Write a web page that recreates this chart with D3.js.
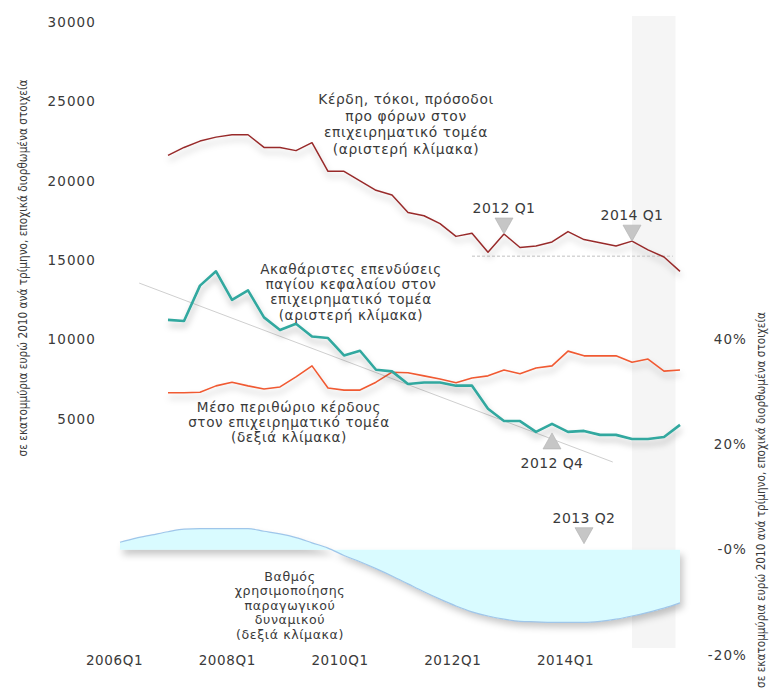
<!DOCTYPE html>
<html>
<head>
<meta charset="utf-8">
<script src="https://cdn.jsdelivr.net/npm/d3@7"></script>
<style>
  html, body { margin: 0; padding: 0; background: #fff; }
  svg { display: block; }
  text { font-family: "DejaVu Sans", sans-serif; fill: #3a3a3a; }
</style>
</head>
<body>
<svg id="chart" width="775" height="691"></svg>
<script>
// ---------------- DATA ----------------
const lineQuarters = ["2006Q4","2007Q1","2007Q2","2007Q3","2007Q4","2008Q1","2008Q2","2008Q3","2008Q4",
  "2009Q1","2009Q2","2009Q3","2009Q4","2010Q1","2010Q2","2010Q3","2010Q4","2011Q1","2011Q2","2011Q3","2011Q4",
  "2012Q1","2012Q2","2012Q3","2012Q4","2013Q1","2013Q2","2013Q3","2013Q4","2014Q1","2014Q2","2014Q3","2014Q4"];

// Profits, interest, rents before tax (left scale, million EUR)
const profits = [21600,22100,22500,22750,22900,22900,22100,22100,21900,22400,20600,20600,20000,19400,19100,18000,17800,
  17300,16500,16700,15500,16650,15800,15900,16150,16800,16300,16100,15900,16200,15650,15200,14300];

// Gross fixed capital formation (left scale, million EUR)
const investment = [11240,11170,13400,14300,12500,13100,11400,10600,11000,10200,10100,9000,9300,8100,8000,7200,7300,
  7300,7100,7100,5640,4870,4870,4190,4690,4190,4250,4000,4000,3740,3740,3870,4630];

// Average profit margin (right scale, %)
const margin = [29.8,29.8,29.9,31.1,31.8,31.1,30.5,30.9,32.8,34.9,30.7,30.3,30.3,31.8,33.7,33.6,33.0,
  32.4,31.7,32.6,33.0,34.1,33.4,34.5,34.9,37.7,36.8,36.8,36.8,35.6,36.2,33.9,34.1];

const areaQuarters = ["2006Q1","2006Q2","2006Q3"].concat(lineQuarters);
// Capacity utilisation (right scale, %)
const capacity = [1.4,2.2,2.8,3.4,3.9,4.0,4.0,4.0,4.0,3.5,3.0,2.3,1.3,0.3,-1.1,-2.3,-3.6,-5.0,-6.5,-8.0,
  -9.4,-10.7,-11.8,-12.6,-13.2,-13.6,-13.7,-13.8,-13.8,-13.8,-13.6,-13.2,-12.6,-11.9,-11.1,-10.1];

const trendLine = [{q: 2006.30, v: 13560}, {q: 2013.70, v: 2290}];
const dashedLevel = {from: 2011.5, to: 2014.64, v: 15250};
const shadedBand = {from: 2014.0, to: 2014.68};

const leftTicks = [5000, 10000, 15000, 20000, 25000, 30000];
const rightTicks = [-20, 0, 20, 40];
const rightTickLabels = ["-20%", "-0%", "20%", "40%"];
const xTickLabels = ["2006Q1", "2008Q1", "2010Q1", "2012Q1", "2014Q1"];

const axisTitle = "σε εκατομμύρια ευρώ 2010 ανά τρίμηνο, εποχικά διορθωμένα στοιχεία";

const labelProfits = ["Κέρδη, τόκοι, πρόσοδοι", "προ φόρων στον", "επιχειρηματικό τομέα", "(αριστερή κλίμακα)"];
const labelInvest = ["Ακαθάριστες επενδύσεις", "παγίου κεφαλαίου στον", "επιχειρηματικό τομέα", "(αριστερή κλίμακα)"];
const labelMargin = ["Μέσο περιθώριο κέρδους", "στον επιχειρηματικό τομέα", "(δεξιά κλίμακα)"];
const labelCapacity = ["Βαθμός", "χρησιμοποίησης", "παραγωγικού", "δυναμικού", "(δεξιά κλίμακα)"];

const markers = [
  {text: "2012 Q1", quarter: "2012Q1", series: "profits", dir: "down"},
  {text: "2014 Q1", quarter: "2014Q1", series: "profits", dir: "down"},
  {text: "2012 Q4", quarter: "2012Q4", series: "investment", dir: "up"},
  {text: "2013 Q2", quarter: "2013Q2", series: "zero", dir: "down"}
];

// ---------------- HELPERS ----------------
const qNum = s => +s.slice(0, 4) + (+s.slice(5) - 1) / 4;

const svg = d3.select("#chart");
const W = 775, H = 691;

const x = d3.scaleLinear().domain([2006, 2014.75]).range([120, 680]);
const yL = d3.scaleLinear().domain([0, 30000]).range([498.4, 22]);
const yR = d3.scaleLinear().domain([-20, 40]).range([655, 339]);
const xLab = d3.scalePoint().domain(xTickLabels).range([114, 565]);

// shadow filter
const defs = svg.append("defs");
const f = defs.append("filter").attr("id", "shadow").attr("x", "-10%").attr("y", "-20%").attr("width", "130%").attr("height", "160%");
f.append("feDropShadow").attr("dx", 1).attr("dy", 5).attr("stdDeviation", 3)
  .attr("flood-color", "#000").attr("flood-opacity", 0.28);
const f2 = defs.append("filter").attr("id", "shadowArea").attr("x", "-10%").attr("y", "-20%").attr("width", "130%").attr("height", "160%");
f2.append("feDropShadow").attr("dx", 3).attr("dy", 5).attr("stdDeviation", 3.5)
  .attr("flood-color", "#000").attr("flood-opacity", 0.22);

svg.append("rect").attr("width", W).attr("height", H).attr("fill", "#fff");

// shaded band
svg.append("rect")
  .attr("x", x(shadedBand.from)).attr("width", x(shadedBand.to) - x(shadedBand.from))
  .attr("y", 16).attr("height", 632)
  .attr("fill", "#f5f5f5");

// ---------------- AREA ----------------
const areaData = areaQuarters.map((q, i) => ({q: qNum(q), v: capacity[i]}));
svg.append("path").datum(areaData)
  .attr("d", d3.area().x(d => x(d.q)).y0(yR(0)).y1(d => yR(d.v)).curve(d3.curveMonotoneX))
  .attr("fill", "#d9fbff")
  .attr("filter", "url(#shadowArea)");
svg.append("path").datum(areaData)
  .attr("d", d3.line().x(d => x(d.q)).y(d => yR(d.v)).curve(d3.curveMonotoneX))
  .attr("fill", "none").attr("stroke", "#9fc6ea").attr("stroke-width", 1.2);

// ---------------- REFERENCE LINES ----------------
svg.append("path").datum(trendLine)
  .attr("d", d3.line().x(d => x(d.q)).y(d => yL(d.v)))
  .attr("stroke", "#cfcfcf").attr("stroke-width", 1).attr("fill", "none");

svg.append("line")
  .attr("x1", x(dashedLevel.from)).attr("x2", x(dashedLevel.to))
  .attr("y1", yL(dashedLevel.v)).attr("y2", yL(dashedLevel.v))
  .attr("stroke", "#d6d6d6").attr("stroke-width", 1.5).attr("stroke-dasharray", "3,2");

// ---------------- LINES ----------------
function drawLine(values, yScale, color, width) {
  const data = lineQuarters.map((q, i) => ({q: qNum(q), v: values[i]}));
  svg.append("path").datum(data)
    .attr("d", d3.line().x(d => x(d.q)).y(d => yScale(d.v)))
    .attr("fill", "none").attr("stroke", color).attr("stroke-width", width)
    .attr("stroke-linejoin", "round")
    .attr("filter", "url(#shadow)");
}
drawLine(margin, yR, "#f05a33", 1.6);
drawLine(investment, yL, "#31a89f", 2.6);
drawLine(profits, yL, "#982b2b", 1.5);

// ---------------- MARKERS ----------------
markers.forEach(m => {
  const i = lineQuarters.indexOf(m.quarter);
  const q = qNum(m.quarter);
  const px = x(q);
  let apexY;
  if (m.series === "profits") apexY = yL(profits[i]);
  else if (m.series === "investment") apexY = yL(investment[i]) + 9;
  else apexY = yR(0) - 6;
  const w = 9, h = 16;
  let pts, ty;
  if (m.dir === "down") {
    pts = [[px - w, apexY - h], [px + w, apexY - h], [px, apexY]];
    ty = apexY - h - 5;
  } else {
    pts = [[px - w, apexY + h], [px + w, apexY + h], [px, apexY]];
    ty = apexY + h + 19;
  }
  svg.append("path").attr("d", "M" + pts.map(p => p.join(",")).join("L") + "Z")
    .attr("fill", "#c6c6c6").attr("stroke", "#b0b0b0").attr("stroke-width", 0.6);
  svg.append("text").attr("x", px).attr("y", ty)
    .attr("text-anchor", "middle").attr("font-size", 14).attr("letter-spacing", 0.4)
    .text(m.text);
});

// ---------------- AXES ----------------
const axL = svg.append("g").attr("transform", "translate(96,0)")
  .call(d3.axisLeft(yL).tickValues(leftTicks).tickSize(0).tickPadding(0).tickFormat(d3.format("d")));
const axR = svg.append("g").attr("transform", "translate(747,0)")
  .call(d3.axisLeft(yR).tickValues(rightTicks).tickSize(0).tickPadding(0)
    .tickFormat(d => rightTickLabels[rightTicks.indexOf(d)]));
const axB = svg.append("g").attr("transform", "translate(0,655)")
  .call(d3.axisBottom(xLab).tickSize(0).tickPadding(0));
[axL, axR, axB].forEach(g => {
  g.select(".domain").remove();
  g.selectAll("text").attr("font-family", "DejaVu Sans, sans-serif").attr("font-size", 13.5)
    .attr("letter-spacing", 1.1).attr("fill", "#3a3a3a");
});
axB.selectAll("text").attr("dy", "0.71em").attr("letter-spacing", 0.6);

// axis titles
svg.append("text").attr("transform", "translate(27,268) rotate(-90)")
  .attr("text-anchor", "middle").attr("font-size", 12.5)
  .attr("font-family", "'Liberation Sans Narrow', 'Liberation Sans', sans-serif")
  .attr("textLength", 377).attr("lengthAdjust", "spacingAndGlyphs")
  .text(axisTitle);
svg.append("text").attr("transform", "translate(765,500) rotate(-90)")
  .attr("text-anchor", "middle").attr("font-size", 12.5)
  .attr("font-family", "'Liberation Sans Narrow', 'Liberation Sans', sans-serif")
  .attr("textLength", 376).attr("lengthAdjust", "spacingAndGlyphs")
  .text(axisTitle);

// ---------------- SERIES LABELS ----------------
function block(lines, cx, y0, lh, fs) {
  const t = svg.append("text").attr("text-anchor", "middle").attr("font-size", fs).attr("letter-spacing", 0.6);
  lines.forEach((s, i) => t.append("tspan").attr("x", cx).attr("y", y0 + i * lh).text(s));
}
block(labelProfits, 406, 104, 16.5, 13.8);
block(labelInvest, 351, 274, 15.2, 13.6);
block(labelMargin, 289, 412, 15.2, 13.6);
block(labelCapacity, 290, 581, 14.4, 12.6);
</script>
</body>
</html>
